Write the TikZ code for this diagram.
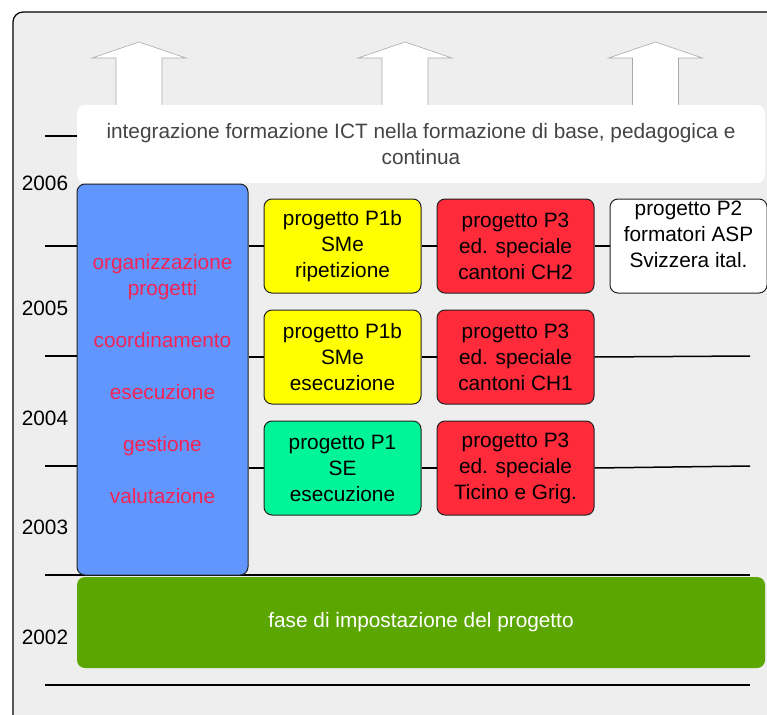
\documentclass[tikz,border=0pt]{standalone}
\usepackage{fontspec}
\setmainfont{Liberation Sans}
\usetikzlibrary{positioning}

\definecolor{framegray}{HTML}{EEEEEE}
\definecolor{arrowgray}{HTML}{AAAAAA}
\definecolor{ictgray}{HTML}{444444}
\definecolor{boxline}{HTML}{222222}
\definecolor{orgblue}{RGB}{98,150,255}
\definecolor{orgtext}{RGB}{245,35,85}
\definecolor{projyellow}{RGB}{255,255,0}
\definecolor{projred}{RGB}{255,42,58}
\definecolor{projmint}{RGB}{0,245,152}
\definecolor{setupgreen}{RGB}{91,166,0}

\begin{document}
\begin{tikzpicture}
  [
    x=1pt, y=-1pt,
    every node/.style={font=\fontsize{20.8}{26}\selectfont},
    timeline/.style={line width=1.5pt},
    bigarrow/.style={draw=arrowgray, fill=white, line width=0.6pt},
    ictbox/.style={fill=white, rounded corners=8pt, minimum width=688pt, minimum height=78pt, text=ictgray, align=center},
    orgbox/.style={draw=boxline, fill=orgblue, line width=1pt, rounded corners=8pt, minimum width=171pt, minimum height=391pt, text=orgtext, align=center},
    project/.style={draw=boxline, line width=1pt, rounded corners=8pt, minimum width=157pt, minimum height=94pt, inner sep=0pt, align=center},
    setupbox/.style={fill=setupgreen, rounded corners=8pt, minimum width=688pt, minimum height=91pt, text=white}
  ]
  \useasboundingbox (0,0) rectangle (767,714);
  \clip (0,0) rectangle (767,714);
  \draw[fill=framegray, line width=1.2pt, rounded corners=10pt] (13,12) rectangle (800,740);

  % arrows up
  \foreach \ax in {139,405,655.5}
    \draw[bigarrow] (\ax-23,110) -- (\ax-23,58) -- (\ax-47,58) -- (\ax,42) -- (\ax+47,58) -- (\ax+23,58) -- (\ax+23,110);

  \node[ictbox] (ict) at (421,144) {integrazione formazione ICT nella formazione di base, pedagogica e\\continua};

  \coordinate (s6) at (45,136);
  \coordinate (s5) at (45,246);
  \coordinate (s4) at (45,356);
  \coordinate (s3) at (45,466);
  \coordinate (s2) at (45,575);
  \coordinate (s1) at (45,685);
  \coordinate (e4) at (750,356);
  \coordinate (e3) at (750,466);
  \coordinate (e2) at (750,575);
  \coordinate (e1) at (750,685);

  \draw[timeline] (s2) -- (e2);
  \draw[timeline] (s1) -- (e1);

  \node (y2006) at (45,183.5) {2006};
  \node (y2005) at (45,308) {2005};
  \node (y2004) at (45,418) {2004};
  \node (y2003) at (45,527) {2003};
  \node (y2002) at (45,637) {2002};

  \node[orgbox] (org) at (162.5,379.5) {organizzazione\\progetti\\[26pt]coordinamento\\[26pt]esecuzione\\[26pt]gestione\\[26pt]valutazione};

  \node[setupbox] (setup) at (421,622.5) {fase di impostazione del progetto};

  \node[project, fill=projyellow] (p1brip) at (342.5,246) {progetto P1b\\SMe\\ripetizione};
  \node[project, fill=projred, right=15pt of p1brip] (p3ch2) {progetto P3\\ed. speciale\\cantoni CH2};
  \node[project, fill=white, right=15pt of p3ch2, text depth=24pt] (p2asp) {progetto P2\\formatori ASP\\Svizzera ital.};

  \node[project, fill=projyellow, below=16pt of p1brip] (p1bese) {progetto P1b\\SMe\\esecuzione};
  \node[project, fill=projred, right=15pt of p1bese] (p3ch1) {progetto P3\\ed. speciale\\cantoni CH1};

  \node[project, fill=projmint, below=16pt of p1bese] (p1se) {progetto P1\\SE\\esecuzione};
  \node[project, fill=projred, right=15pt of p1se] (p3tg) {progetto P3\\ed. speciale\\Ticino e Grig.};

  \draw[timeline] (s6) -- (s6 -| ict.west);
  \draw[timeline] (s5) -- (s5 -| org.west);
  \draw[timeline] (s4) -- (s4 -| org.west);
  \draw[timeline] (s3) -- (s3 -| org.west);
  \draw[timeline] (org.east |- p1brip.west) -- (p1brip.west);
  \draw[timeline] (org.east |- p1bese.west) -- (p1bese.west);
  \draw[timeline] (org.east |- p1se.west) -- (p1se.west);
  \draw[timeline] (p1brip) -- (p3ch2);
  \draw[timeline] (p3ch2.east) -- (p3ch2.east -| p2asp.west);
  \draw[timeline] (p1bese) -- (p3ch1);
  \draw[timeline] (p3ch1.east) -- (e4);
  \draw[timeline] (p1se) -- (p3tg);
  \draw[timeline] (p3tg.east) -- (e3);
\end{tikzpicture}
\end{document}
